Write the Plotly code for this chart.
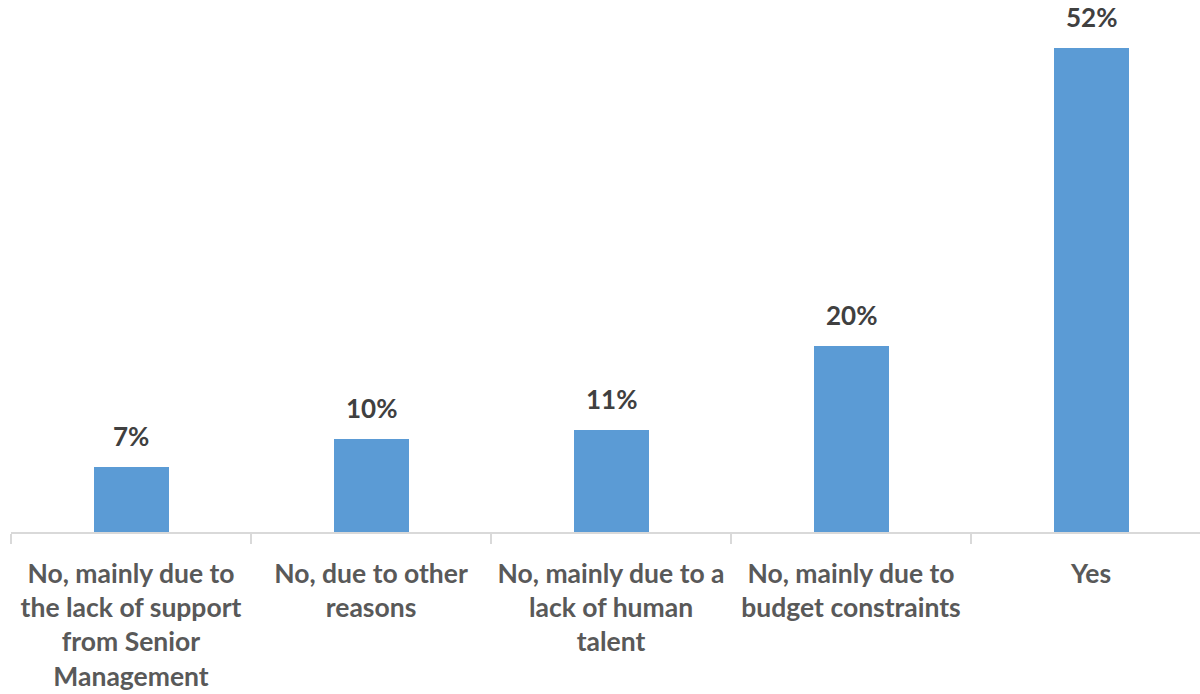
import plotly.graph_objects as go

categories = [
    "No, mainly due to<br>the lack of support<br>from Senior<br>Management",
    "No, due to other<br>reasons",
    "No, mainly due to a<br>lack of human<br>talent",
    "No, mainly due to<br>budget constraints",
    "Yes",
]
values = [7, 10, 11, 20, 52]
value_labels = ["7%", "10%", "11%", "20%", "52%"]

BAR_COLOR = "#5b9bd5"
AXIS_COLOR = "#d9d9d9"
FONT = "Lato"

fig = go.Figure(
    go.Bar(
        x=categories,
        y=values,
        marker=dict(color=BAR_COLOR, line=dict(width=0)),
        width=0.3125,
        hoverinfo="skip",
    )
)

# value labels above each bar
for cat, val, lab in zip(categories, values, value_labels):
    fig.add_annotation(
        x=cat, y=val, text=f"<b>{lab}</b>", showarrow=False,
        yanchor="bottom", yshift=13,
        font=dict(family=FONT, size=26, color="#404040"),
    )

fig.update_layout(
    width=1200, height=694,
    margin=dict(l=11, r=0, t=0, b=162),
    plot_bgcolor="white", paper_bgcolor="white",
    showlegend=False,
    bargap=0,
)
fig.update_xaxes(
    type="category",
    range=[-0.5, 4.454],
    showline=True, linecolor=AXIS_COLOR, linewidth=1.5,
    ticks="outside", tickson="boundaries", ticklen=10, tickcolor=AXIS_COLOR, tickwidth=1.5,
    tickfont=dict(family=FONT, size=26.5, color="#595959", weight="bold"),
    ticklabelstandoff=17,
    showgrid=False, zeroline=False,
)
fig.update_yaxes(
    range=[0, 57.14], visible=False, showgrid=False, zeroline=False,
)

fig.write_html("out.html")
